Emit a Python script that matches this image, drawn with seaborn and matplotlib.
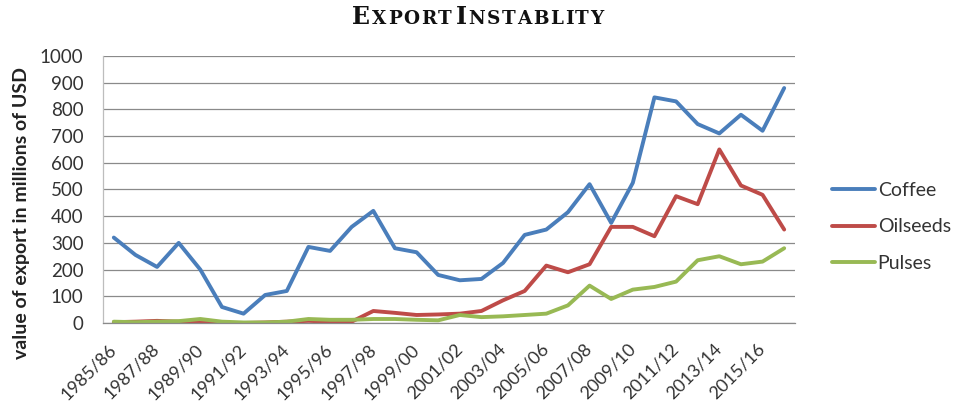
import matplotlib
matplotlib.use("Agg")
import matplotlib.pyplot as plt
import matplotlib.transforms as mtransforms
import numpy as np
import pandas as pd
import seaborn as sns

# Export seasons (one per year) and values in millions of USD
seasons = [
    "1985/86", "1986/87", "1987/88", "1988/89", "1989/90", "1990/91",
    "1991/92", "1992/93", "1993/94", "1994/95", "1995/96", "1996/97",
    "1997/98", "1998/99", "1999/00", "2000/01", "2001/02", "2002/03",
    "2003/04", "2004/05", "2005/06", "2006/07", "2007/08", "2008/09",
    "2009/10", "2010/11", "2011/12", "2012/13", "2013/14", "2014/15",
    "2015/16", "2016/17",
]
coffee = [320, 255, 210, 300, 200, 60, 35, 105, 120, 285, 270, 360,
          420, 280, 265, 180, 160, 165, 225, 330, 350, 415, 520, 375,
          525, 845, 830, 745, 710, 780, 720, 880]
oilseeds = [3, 5, 8, 5, 0, 0, 0, 2, 5, 8, 5, 5,
            45, 38, 30, 32, 35, 45, 85, 120, 215, 190, 220, 360,
            360, 325, 475, 445, 650, 515, 480, 350]
pulses = [5, 3, 5, 7, 15, 5, 2, 2, 5, 15, 12, 12,
          15, 15, 12, 10, 30, 22, 25, 30, 35, 66, 140, 90,
          125, 135, 155, 235, 250, 220, 230, 280]

series_names = ["Coffee", "Oilseeds", "Pulses"]
series_colors = ["#4A7EBB", "#BE4B48", "#98B954"]
y_ticks = list(range(0, 1001, 100))

df = pd.DataFrame({
    "pos": np.tile(np.arange(len(seasons)), 3),
    "value": coffee + oilseeds + pulses,
    "commodity": np.repeat(series_names, len(seasons)),
})

sns.set_theme(style="white")
plt.rcParams["font.family"] = ["Lato", "DejaVu Sans"]

fig = plt.figure(figsize=(9.56, 4.07), dpi=100)
ax = fig.add_axes([103 / 956, 1 - 323 / 407, (795 - 103) / 956, (323 - 56) / 407])

sns.lineplot(data=df, x="pos", y="value", hue="commodity",
             palette=dict(zip(series_names, series_colors)),
             linewidth=2.8, ax=ax, legend=False)

ax.set_xlim(-0.5, len(seasons) - 0.5)
ax.set_ylim(0, 1000)
ax.set_yticks(y_ticks)
ax.set_yticklabels([str(v) for v in y_ticks], fontsize=13.5, color="#333333")
ax.yaxis.grid(True, color="#8a8a8a", linewidth=0.9)
ax.set_axisbelow(True)

tick_pos = list(range(0, len(seasons), 2))
ax.set_xticks(tick_pos)
ax.set_xticklabels([seasons[i] for i in tick_pos], rotation=45,
                   ha="right", va="center", rotation_mode="anchor",
                   fontsize=13, color="#333333")
shift = mtransforms.ScaledTranslation(4 / 100, 0, fig.dpi_scale_trans)
for lbl in ax.get_xticklabels():
    lbl.set_transform(lbl.get_transform() + shift)

ax.tick_params(axis="y", length=0, pad=14)
ax.tick_params(axis="x", length=0, pad=17)

for side in ["top", "right"]:
    ax.spines[side].set_visible(False)
ax.spines["left"].set_color("#bdbdbd")
ax.spines["left"].set_linewidth(0.9)
ax.spines["bottom"].set_color("#8a8a8a")
ax.spines["bottom"].set_linewidth(0.9)

ax.set_xlabel("")
ax.set_ylabel("value of export in millions of USD", fontsize=14,
              fontweight="bold", color="#222222")
ax.yaxis.set_label_coords(30 / 956, 1 - 213 / 407, transform=fig.transFigure)

# Legend on the right of the plot area
handles = [plt.Line2D([], [], color=c, linewidth=2.8) for c in series_colors]
ax.legend(handles, series_names, loc="center left",
          bbox_to_anchor=(832 / 956, 1 - 227 / 407),
          bbox_transform=fig.transFigure, frameon=False, fontsize=14,
          borderpad=0, borderaxespad=0,
          handlelength=2.2, handletextpad=0.15, labelspacing=1.0,
          labelcolor="#333333")

# Small-caps title built from individually placed letters
title_parts = [("E", 17), ("XPORT", 13.2), (" ", 2), ("I", 17), ("NSTABLITY", 13.2)]
renderer = fig.canvas.get_renderer()
tracking = 1.6
letters = []
for chunk, size in title_parts:
    for ch in chunk:
        t = fig.text(0, 0, ch, fontsize=size, fontweight="heavy",
                     family="DejaVu Serif", color="#111111",
                     ha="left", va="baseline", transform=None)
        letters.append(t)
widths = [t.get_window_extent(renderer).width for t in letters]
total = sum(widths) + tracking * (len(letters) - 1)
x = 478 - total / 2
baseline = 407 - 24
for t, w in zip(letters, widths):
    t.set_position((x, baseline))
    x += w + tracking

fig.savefig("out.png", dpi=100)
